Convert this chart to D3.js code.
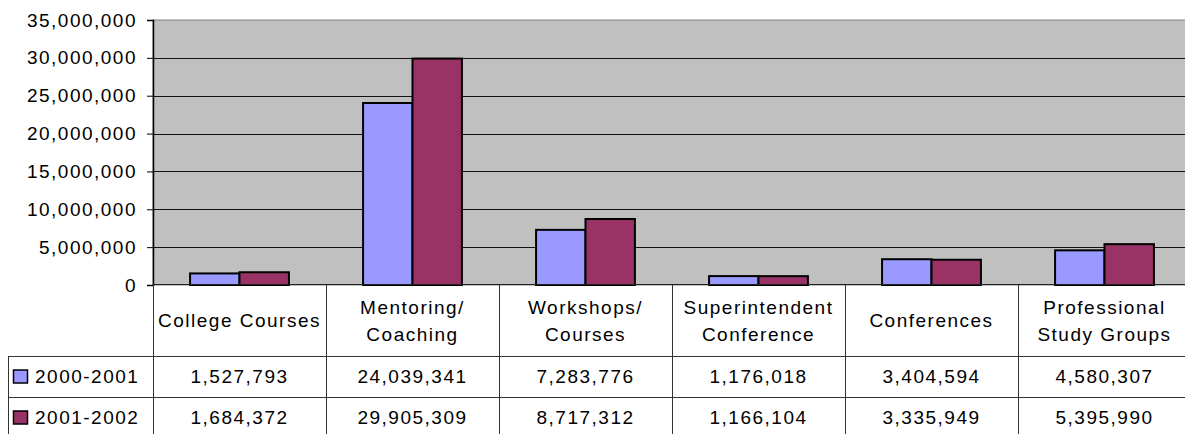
<!DOCTYPE html>
<html>
<head>
<meta charset="utf-8">
<script src="https://cdn.jsdelivr.net/npm/d3@7"></script>
<style>
  body { margin: 0; background: #fff; }
  svg { display: block; }
  text { font-family: "Liberation Sans", Arial, sans-serif; fill: #000; }
</style>
</head>
<body>
<svg id="chart" width="1185" height="434"></svg>
<script>
// data
const categories = [
  "College Courses",
  "Mentoring/\nCoaching",
  "Workshops/\nCourses",
  "Superintendent\nConference",
  "Conferences",
  "Professional\nStudy Groups"
];
const seriesNames = ["2000-2001", "2001-2002"];
const values2000 = [1527793, 24039341, 7283776, 1176018, 3404594, 4580307];
const values2001 = [1684372, 29905309, 8717312, 1166104, 3335949, 5395990];
const yTicks = [0, 5000000, 10000000, 15000000, 20000000, 25000000, 30000000, 35000000];

const allValues = [values2000, values2001];
const colors = ["#9999FF", "#993366"];

const svg = d3.select("#chart");
const plot = { left: 153, right: 1191, top: 20, bottom: 285 };
const tableRows = [285, 356, 397, 438];
const tableLeft = 8;
const fontSize = "19px";
const spacing = "1.5px";

const x = d3.scaleBand()
  .domain(d3.range(categories.length))
  .range([plot.left, plot.right])
  .padding(0);

// excel style gap width 150%
const xInner = d3.scaleBand()
  .domain(d3.range(seriesNames.length))
  .range([0, x.bandwidth()])
  .paddingInner(0)
  .paddingOuter(0.75);

const y = d3.scaleLinear()
  .domain([0, 35000000])
  .range([plot.bottom, plot.top]);

// plot background
svg.append("rect")
  .attr("x", plot.left)
  .attr("y", plot.top)
  .attr("width", plot.right - plot.left)
  .attr("height", plot.bottom - plot.top)
  .attr("fill", "#C0C0C0")
  .attr("stroke", "#808080")
  .attr("stroke-width", 1);

// gridlines
svg.append("g")
  .selectAll("line")
  .data(yTicks.filter(d => d > 0 && d < 35000000))
  .enter()
  .append("line")
  .attr("x1", plot.left)
  .attr("x2", plot.right)
  .attr("y1", d => Math.round(y(d)) + 0.5)
  .attr("y2", d => Math.round(y(d)) + 0.5)
  .attr("stroke", "#111")
  .attr("stroke-width", 1);

// bars
const groups = svg.append("g")
  .selectAll("g")
  .data(categories.map((c, i) => i))
  .enter()
  .append("g")
  .attr("transform", i => `translate(${x(i)},0)`);

groups.selectAll("rect")
  .data(i => allValues.map((vals, s) => ({ s, v: vals[i] })))
  .enter()
  .append("rect")
  .attr("x", d => xInner(d.s))
  .attr("y", d => y(d.v))
  .attr("width", xInner.bandwidth())
  .attr("height", d => y(0) - y(d.v))
  .attr("fill", d => colors[d.s])
  .attr("stroke", "#000")
  .attr("stroke-width", 2);

// y axis
const yAxis = svg.append("g")
  .attr("transform", `translate(${plot.left},0)`)
  .call(d3.axisLeft(y).tickValues(yTicks).tickFormat(d3.format(",")).tickSize(6).tickPadding(10));
yAxis.select(".domain").attr("stroke", "#000").attr("stroke-width", 1.5);
yAxis.selectAll(".tick line").attr("stroke", "#000");
yAxis.selectAll("text")
  .style("font-size", fontSize)
  .style("letter-spacing", spacing)
  .attr("font-family", null);

// data table lines
const table = svg.append("g").attr("stroke", "#333").attr("stroke-width", 1);
// category separators
table.selectAll(".vline")
  .data(d3.range(categories.length + 1))
  .enter()
  .append("line")
  .attr("x1", i => Math.round(plot.left + i * x.bandwidth()) + 0.5)
  .attr("x2", i => Math.round(plot.left + i * x.bandwidth()) + 0.5)
  .attr("y1", tableRows[0])
  .attr("y2", tableRows[3]);
// row lines
table.selectAll(".hline")
  .data([tableRows[1], tableRows[2]])
  .enter()
  .append("line")
  .attr("x1", tableLeft)
  .attr("x2", plot.right)
  .attr("y1", d => d + 0.5)
  .attr("y2", d => d + 0.5);
table.append("line")
  .attr("x1", tableLeft + 0.5)
  .attr("x2", tableLeft + 0.5)
  .attr("y1", tableRows[1])
  .attr("y2", tableRows[3]);
// x axis line
svg.append("line")
  .attr("x1", plot.left)
  .attr("x2", plot.right)
  .attr("y1", plot.bottom - 0.5)
  .attr("y2", plot.bottom - 0.5)
  .attr("stroke", "#222")
  .attr("stroke-width", 1);

// category headers
const lineH = 27;
const headerMid = (tableRows[0] + tableRows[1]) / 2;
svg.append("g")
  .selectAll("text")
  .data(categories.map((c, i) => i))
  .enter()
  .append("text")
  .attr("text-anchor", "middle")
  .style("font-size", fontSize)
  .style("letter-spacing", spacing)
  .each(function (i) {
    const lines = categories[i].split("\n");
    const t = d3.select(this);
    lines.forEach((ln, k) => {
      t.append("tspan")
        .attr("x", x(i) + x.bandwidth() / 2)
        .attr("y", headerMid + (k - (lines.length - 1) / 2) * lineH)
        .attr("dy", "0.36em")
        .text(ln);
    });
  });

// value rows
const fmt = d3.format(",");
seriesNames.forEach((name, s) => {
  const mid = (tableRows[s + 1] + tableRows[s + 2]) / 2;
  const row = svg.append("g");
  row.append("rect")
    .attr("x", 13.5)
    .attr("y", mid - 6.5)
    .attr("width", 14)
    .attr("height", 13)
    .attr("fill", colors[s])
    .attr("stroke", "#000")
    .attr("stroke-width", 1.5);
  row.append("text")
    .attr("x", 35)
    .attr("y", mid)
    .attr("dy", "0.36em")
    .style("font-size", fontSize)
    .style("letter-spacing", spacing)
    .text(name);
  row.selectAll(".val")
    .data(allValues[s])
    .enter()
    .append("text")
    .attr("x", (d, i) => x(i) + x.bandwidth() / 2)
    .attr("y", mid)
    .attr("dy", "0.36em")
    .attr("text-anchor", "middle")
    .style("font-size", fontSize)
    .style("letter-spacing", spacing)
    .text(d => fmt(d));
});
</script>
</body>
</html>
